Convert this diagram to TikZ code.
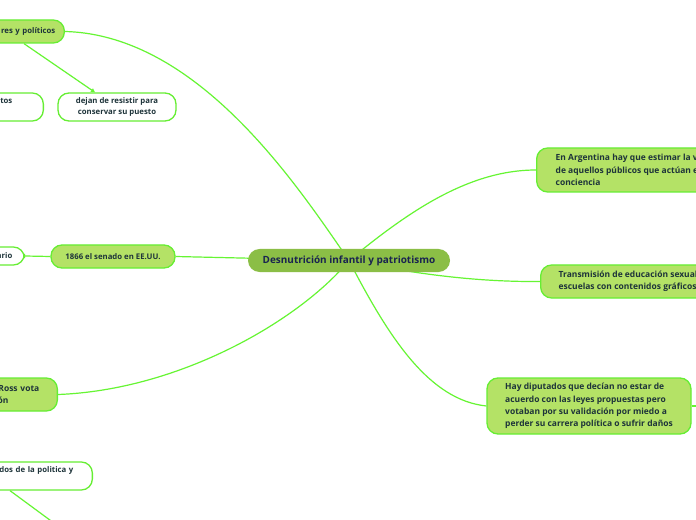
\documentclass[tikz,border=0pt]{standalone}
\usepackage{fontspec}
\setmainfont{Open Sans}
\usetikzlibrary{arrows.meta,backgrounds}
\definecolor{lfill}{RGB}{180,226,102}
\definecolor{edgeg}{RGB}{102,238,51}
\definecolor{lineg}{RGB}{102,245,51}
\definecolor{cfill}{RGB}{139,190,70}
\definecolor{ntext}{RGB}{30,52,58}
\definecolor{ctext}{RGB}{25,35,80}
\newcommand{\padr}[1]{\hspace*{#1}\mbox{}}
\tikzset{
  base/.style={draw=edgeg, line width=1.3bp, rounded corners=11bp, font=\bfseries\fontsize{8.5}{12.3}\selectfont, text=ntext, inner ysep=0bp},
  small/.style={font=\bfseries\fontsize{7.8}{12}\selectfont},
  lbox/.style={base, fill=lfill},
  wbox/.style={base, fill=white},
  cbox/.style={fill=cfill, rounded corners=11.5bp, text=ctext, font=\bfseries\fontsize{10}{12}\selectfont, minimum width=202bp, minimum height=23bp, inner sep=0bp},
  conn/.style={draw=lineg, line width=1.2bp},
}
\begin{document}
\begin{tikzpicture}[x=1bp,y=-1bp]
\useasboundingbox (0,0) rectangle (696,520);
\clip (0,0) rectangle (696,520);
% nodes
\node[cbox] (c) at (349,260.5) {Desnutrición infantil y patriotismo};
\node[lbox, small, anchor=east, minimum height=23bp, text width=140bp, align=right, inner xsep=0bp] (n1) at (65,31.5) {res y políticos\padr{9bp}};
\node[wbox, small, minimum width=118bp, minimum height=28bp, align=center, inner xsep=0bp] (dejan) at (117,107) {dejan de resistir para\\conservar su puesto};
\node[wbox, small, anchor=east, minimum height=28bp, text width=100bp, align=right, inner xsep=0bp] (tos) at (44,107) {tos\padr{31bp}\\\mbox{}};
\node[lbox, small, minimum width=124bp, minimum height=23bp, inner xsep=0bp] (senado) at (113,256.5) {1866 el senado en EE.UU.};
\node[wbox, small, anchor=east, minimum height=18bp, text width=60bp, align=right, inner xsep=0bp] (ario) at (25,256) {ario\padr{12bp}};
\node[lbox, anchor=east, minimum height=33bp, text width=120bp, align=right, inner xsep=0bp] (ross) at (58,394.5) {Ross vota\padr{18bp}\\ón\padr{49bp}};
\node[wbox, small, anchor=east, minimum height=28bp, text width=160bp, align=right, inner xsep=0bp] (dos) at (93,476) {dos de la politica y\padr{19bp}\\\mbox{}};
\node[lbox, anchor=west, minimum height=44bp, align=left, inner xsep=19bp] (arg) at (536,170) {En Argentina hay que estimar la valoración\\de aquellos públicos que actúan en\\conciencia};
\node[lbox, anchor=west, minimum height=33bp, align=left, inner xsep=18bp] (trans) at (540,281.5) {Transmisión de educación sexual en\\escuelas con contenidos gráficos};
\node[lbox, minimum width=204bp, minimum height=56bp, align=left, inner xsep=4bp] (dip) at (589,406) {Hay diputados que decían no estar de\\acuerdo con las leyes propuestas pero\\votaban por su validación por miedo a\\perder su carrera política o sufrir daños};
\coordinate (dosend) at (58,526);
\coordinate (dipend) at (702,406);
% connectors
\begin{pgfonlayer}{background}
\fill[white] (0,0) rectangle (696,520);
\draw[conn] (c.center) .. controls (300,190) and (200,35) .. (n1.east);
\draw[conn] (c.center) .. controls (300,320) and (180,390) .. (ross.east);
\draw[conn] (c.center) .. controls (410,210) and (470,170) .. (arg.west);
\draw[conn] (c.center) .. controls (420,275) and (480,282) .. (trans.west);
\draw[conn] (c.center) .. controls (390,340) and (430,400) .. (dip.west);
\draw[conn] (c.center) -- (senado.east);
\draw[conn] (ario.east) -- (senado.west);
\draw[conn, -{Triangle[length=4bp,width=4bp]}] ([xshift=-41bp]n1.south east) -- ([xshift=-22bp]dejan.north);
\draw[conn] ([xshift=-83bp]dos.south east) -- (dosend);
\draw[conn] (dip.east) -- (dipend);
\end{pgfonlayer}
\end{tikzpicture}
\end{document}
